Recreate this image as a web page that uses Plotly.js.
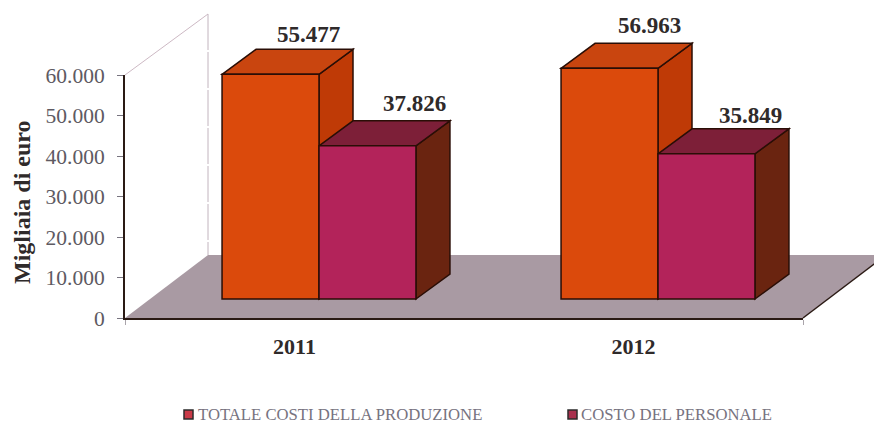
<!DOCTYPE html>
<html>
<head>
<meta charset="utf-8">
<script src="https://cdn.plot.ly/plotly-3.0.1.min.js"></script>
<style>html,body{margin:0;padding:0;background:#fff}#chart{width:874px;height:424px}</style>
</head>
<body>
<div id="chart"></div>
<script>
const years = [2011, 2012];
const seriesNames = ['TOTALE COSTI DELLA PRODUZIONE', 'COSTO DEL PERSONALE'];
const totaleCosti = [55477, 56963];
const costoPersonale = [37826, 35849];
const yTickVals = [0, 10000, 20000, 30000, 40000, 50000, 60000];
const yTickText = ['0', '10.000', '20.000', '30.000', '40.000', '50.000', '60.000'];
const frontColors = ['#DB4A0C', '#B3235A'];
const topColors = ['#C9450F', '#7D1F38'];
const sideColors = ['#BF3A06', '#6A2410'];
const swatchColors = ['#C93A48', '#A8304E'];

const W = 874, H = 424;
const pxPerX = 339, pxPerY = 243 / 60000;
// pseudo-3D frame: full-canvas axes, with the same scale as the visible axes
const x0px = 319, y0px = 299;
const toX = px => 2011 + (px - x0px) / pxPerX;
const toY = py => (y0px - py) / pxPerY;
const depthX = 34 / pxPerX, depthY = 25 / pxPerY;
const bargap = 0.428, barW = (1 - bargap) / 2;
const edge = '#2A0E06';

const fmt = v => String(Math.floor(v / 1000)) + '.' + String(v % 1000).padStart(3, '0');

function poly(pts, fill, line, width) {
  return {
    type: 'path', xref: 'x2', yref: 'y2', layer: 'below',
    path: 'M' + pts.map(p => p[0] + ',' + p[1]).join('L') + 'Z',
    fillcolor: fill, line: {color: line, width: width === undefined ? 1.5 : width}
  };
}
function seg(a, b, color, width, dash) {
  return {
    type: 'line', xref: 'x2', yref: 'y2', layer: 'below',
    x0: a[0], y0: a[1], x1: b[0], y1: b[1],
    line: {color: color, width: width, dash: dash || 'solid'}
  };
}

const shapes = [];
// floor and back wall
const fx0 = toX(125), fx1 = toX(803), fy0 = toY(318);
const wallDX = 83 / pxPerX, wallDY = 63 / pxPerY;
shapes.push(poly([[fx0, fy0], [fx0 + wallDX, fy0 + wallDY], [fx1 + wallDX, fy0 + wallDY], [fx1, fy0]], '#A99AA3', 'rgba(0,0,0,0)', 0));
shapes.push(seg([fx1, fy0], [fx1 + wallDX, fy0 + wallDY], '#2A1A14', 1.5));
const wallTop = toY(75);
shapes.push(seg([fx0, wallTop], [fx0 + wallDX, wallTop + 61 / pxPerY], '#CDB9C4', 1));
shapes.push(seg([fx0 + wallDX, wallTop + 61 / pxPerY], [fx0 + wallDX, fy0 + wallDY], '#C2B4BE', 1, '36px,2px'));

// top and side faces of every bar, back to front
const seriesValues = [totaleCosti, costoPersonale];
years.forEach((yr, i) => {
  seriesValues.forEach((vals, s) => {
    const l = yr - barW + s * barW, r = l + barW, v = vals[i];
    shapes.push(poly([[r, 0], [r + depthX, depthY], [r + depthX, v + depthY], [r, v]], sideColors[s], edge));
    shapes.push(poly([[l, v], [l + depthX, v + depthY], [r + depthX, v + depthY], [r, v]], topColors[s], edge));
  });
});

// value labels
const labelShiftX = [[21, 30], [23, 27]];
const labelShiftY = [[15, 17], [18, 13]];
const annotations = [];
years.forEach((yr, i) => {
  seriesValues.forEach((vals, s) => {
    annotations.push({
      xref: 'x2', yref: 'y2', x: yr - barW + s * barW + barW / 2 + depthX / 2, y: vals[i] + depthY,
      xshift: labelShiftX[i][s], yshift: labelShiftY[i][s], showarrow: false, text: '<b>' + fmt(vals[i]) + '</b>',
      font: {family: 'Liberation Serif', size: 23, color: '#2F2A2A'}, xanchor: 'center', yanchor: 'middle'
    });
  });
});

// axis title
annotations.push({
  xref: 'paper', yref: 'paper', x: 22 / W, y: 1 - 202 / H, xanchor: 'center', yanchor: 'middle', textangle: -90,
  showarrow: false, text: '<b>Migliaia di euro</b>', font: {family: 'Liberation Serif', size: 24, color: '#2F2A2A'}
});

// legend
const legendX = [[184, 196], [568, 579]];
seriesNames.forEach((name, s) => {
  shapes.push({
    type: 'rect', xref: 'paper', yref: 'paper',
    x0: legendX[s][0] / W, x1: (legendX[s][0] + 9) / W, y0: 1 - 419 / H, y1: 1 - 410 / H,
    fillcolor: swatchColors[s], line: {color: '#2B2B2B', width: 1.5}
  });
  annotations.push({
    xref: 'paper', yref: 'paper', x: legendX[s][1] / W, y: 1 - 414.5 / H, xanchor: 'left', yanchor: 'middle',
    showarrow: false, text: name, font: {family: 'Liberation Serif', size: 16.7, color: '#77737F'}
  });
});

const traces = seriesValues.map((vals, s) => ({
  type: 'bar', name: seriesNames[s], x: years, y: vals, xaxis: 'x2', yaxis: 'y2',
  marker: {color: frontColors[s], line: {color: edge, width: 1.5}}, showlegend: false, hoverinfo: 'y'
}));
// anchor trace so that the visible axes are drawn
traces.unshift({type: 'scatter', x: years, y: [null, null], mode: 'markers', showlegend: false, hoverinfo: 'skip'});

const layout = {
  width: W, height: H, margin: {l: 0, r: 0, t: 0, b: 0},
  paper_bgcolor: '#fff', plot_bgcolor: 'rgba(0,0,0,0)', showlegend: false,
  font: {family: 'Liberation Serif', color: '#5A5660'},
  barmode: 'group', bargap: bargap, bargroupgap: 0,
  xaxis: {
    domain: [125 / W, 803 / W], range: [2010.5, 2012.5], anchor: 'y',
    tickmode: 'array', tickvals: years, ticktext: years.map(y => '<b>' + y + '</b>'),
    ticks: '', ticklabelstandoff: 8, showgrid: false, zeroline: false,
    tickfont: {family: 'Liberation Serif', size: 22, color: '#2F2A2A'},
    showline: true, linecolor: '#2A1A14', linewidth: 2,
    minor: {tickmode: 'array', tickvals: [2010.5, 2012.5], ticks: 'outside', ticklen: 5, tickcolor: '#A9A4AA', tickwidth: 1, showgrid: false}
  },
  yaxis: {
    domain: [1 - 318 / H, 1 - 75 / H], range: [0, 60000], anchor: 'x',
    tickmode: 'array', tickvals: yTickVals, ticktext: yTickText,
    ticks: 'outside', ticklen: 6, tickcolor: '#77737F', tickwidth: 1, showgrid: false, zeroline: false,
    ticklabelstandoff: 8,
    tickfont: {family: 'Liberation Serif', size: 21.5, color: '#5E5A62'},
    showline: true, linecolor: '#2A1A14', linewidth: 2
  },
  xaxis2: {domain: [0, 1], range: [toX(0), toX(W)], anchor: 'y2', visible: false, fixedrange: true},
  yaxis2: {domain: [0, 1], range: [toY(H), toY(0)], anchor: 'x2', visible: false, fixedrange: true},
  shapes: shapes,
  annotations: annotations
};
Plotly.newPlot('chart', traces, layout, {displayModeBar: false, staticPlot: true});
</script>
</body>
</html>
